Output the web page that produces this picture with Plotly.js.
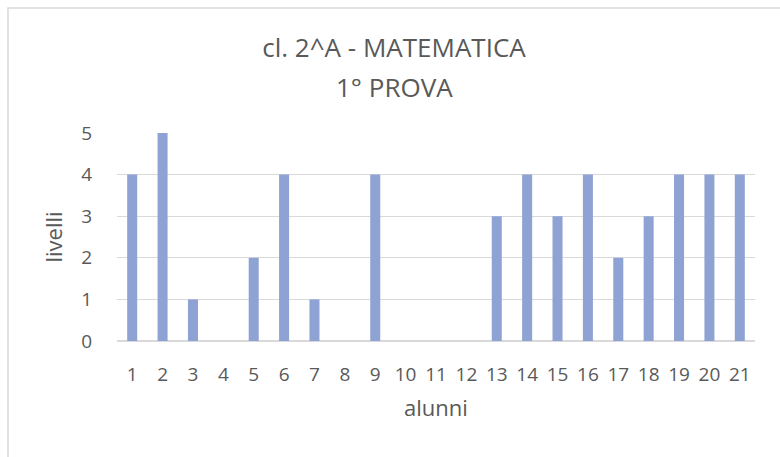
<!DOCTYPE html>
<html><head><meta charset="utf-8">
<script src="https://cdn.plot.ly/plotly-3.0.1.min.js"></script>
<style>html,body{margin:0;padding:0;background:#fff;}#chart{width:780px;height:457px;}</style>
</head><body><div id="chart"></div>
<script>
const categories = ["1","2","3","4","5","6","7","8","9","10","11","12","13","14","15","16","17","18","19","20","21"];
const livelli = [4,5,1,0,2,4,1,0,4,0,0,0,3,4,3,4,2,3,4,4,4];
const yTicks = [0,1,2,3,4,5];
const titleLine1 = 'cl. 2^A - MATEMATICA';
const titleLine2 = '1° PROVA';

const L=117, R=755, T=133, B=341;
const pw=R-L, ph=B-T;
const px=v=>(v-L)/pw, py=v=>(B-v)/ph;
const GREY='#595959';

Plotly.newPlot('chart', [{
  type:'bar', x:categories, y:livelli,
  marker:{color:'#8FA2D4'}, hoverinfo:'skip'
}], {
  width:780, height:457,
  margin:{l:L, r:780-R, t:T, b:457-B, pad:0},
  paper_bgcolor:'#fff', plot_bgcolor:'#fff',
  bargap:0.67,
  font:{family:'Open Sans, sans-serif', color:GREY},
  title:{text:titleLine1, x:394/780, xref:'container', xanchor:'center', y:1-48/457, yref:'container', yanchor:'middle', font:{size:26, color:GREY, family:'Open Sans, sans-serif'}},
  annotations:[{text:titleLine2, xref:'paper', yref:'paper', x:px(394), y:py(87), xanchor:'center', yanchor:'middle', showarrow:false, font:{size:26, color:GREY, family:'Open Sans, sans-serif'}}],
  xaxis:{type:'category', tickfont:{size:19,color:GREY}, showgrid:false, showline:false, ticks:'', zeroline:false, ticklabelstandoff:20,
    title:{text:'alunni', font:{size:22,color:GREY}, standoff:14}},
  yaxis:{range:[0,5], tickvals:yTicks, tickfont:{size:19,color:GREY}, showgrid:true, gridcolor:'#D9D9D9', gridwidth:1.3,
    zeroline:true, zerolinecolor:'#D9D9D9', zerolinewidth:1.3, showline:false, ticks:'', ticklabelstandoff:24,
    title:{text:'livelli', font:{size:22,color:GREY}, standoff:12}},
  showlegend:false,
  shapes:[{type:'rect', xref:'paper', yref:'paper', x0:px(8), x1:px(800), y0:py(8), y1:py(480), line:{color:'#D9D9D9', width:1.5}, layer:'below'}]
}, {displayModeBar:false, staticPlot:true});
</script></body></html>
